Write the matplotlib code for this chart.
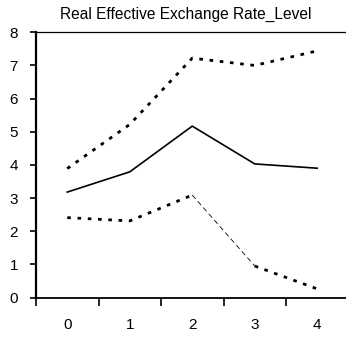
import matplotlib
matplotlib.use("Agg")
import matplotlib.pyplot as plt

periods = [0, 1, 2, 3, 4]
tick_labels = ["0", "1", "2", "3", "4"]
response = [3.18, 3.79, 5.17, 4.03, 3.90]
upper_band = [3.89, 5.22, 7.22, 7.00, 7.44]
lower_band = [2.41, 2.31, 3.09, 0.95, 0.26]
title = "Real Effective Exchange Rate_Level"

plt.rcParams["font.family"] = ["Liberation Sans", "DejaVu Sans"]

fig = plt.figure(figsize=(3.46, 3.37), dpi=100)
ax = fig.add_axes([36 / 346, 39.5 / 337, 312.5 / 346, 265.2 / 337])

dot = (0, (1.3, 2.4))
ax.plot(periods, response, color="black", lw=1.2, solid_joinstyle="miter")
ax.plot(periods, upper_band, color="black", lw=2.0, linestyle=dot)
ax.plot(periods[:3], lower_band[:3], color="black", lw=2.0, linestyle=dot)
ax.plot(periods[2:4], lower_band[2:4], color="black", lw=0.6, linestyle=(0, (6, 4)))
ax.plot(periods[3:], lower_band[3:], color="black", lw=2.0, linestyle=dot)

ax.set_xlim(-0.5, 4.5)
ax.set_ylim(0, 8)
ax.set_yticks(range(0, 9))
ax.set_yticklabels([str(v) for v in range(0, 9)], fontsize=11)

# category boundaries carry the tick marks, labels sit at the centres
ax.set_xticks([p - 0.5 for p in periods] + [4.5])
ax.set_xticklabels([])
ax.set_xticks(periods, minor=True)
ax.set_xticklabels(tick_labels, minor=True, fontsize=11)
ax.tick_params(axis="x", which="major", length=6, width=1.2, direction="out")
ax.tick_params(axis="x", which="minor", length=0, pad=15)
ax.tick_params(axis="y", length=4, width=1.2, direction="out", pad=9)

ax.spines["right"].set_visible(False)
ax.spines["left"].set_linewidth(1.6)
ax.spines["bottom"].set_linewidth(1.3)
ax.spines["top"].set_linewidth(0.9)

fig.text(186 / 346, 1 - 14 / 337, title, fontsize=11.2, ha="center", va="center")

fig.savefig("out.png", dpi=100)
